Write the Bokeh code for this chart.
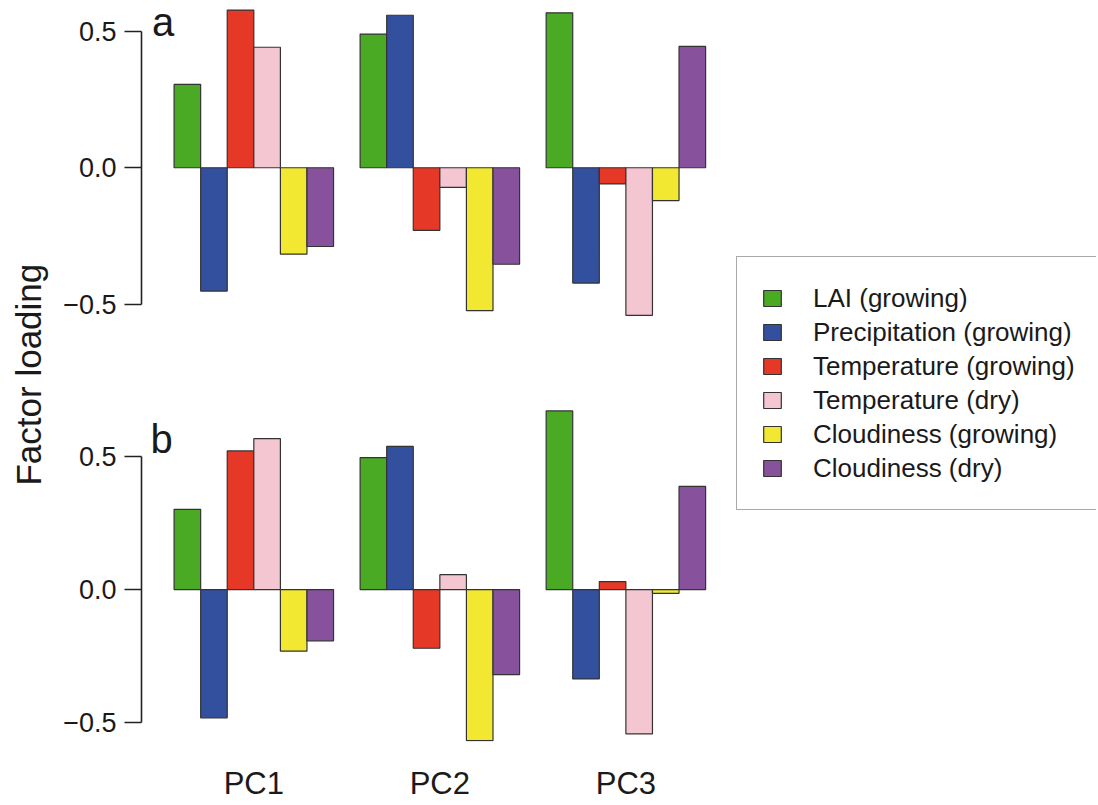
import math
from bokeh.plotting import figure
from bokeh.models import (ColumnDataSource, Range1d, FixedTicker, Label,
                          Legend, LegendItem)
from bokeh.core.properties import value
from bokeh.layouts import row, column
from bokeh.embed import file_html
from bokeh.resources import INLINE

FONT = "Liberation Sans"
INK = "#1a1a1a"

# ---------------- data ----------------
pcs = ["PC1", "PC2", "PC3"]
series = ["LAI (growing)", "Precipitation (growing)", "Temperature (growing)",
          "Temperature (dry)", "Cloudiness (growing)", "Cloudiness (dry)"]
colors = ["#4AAA24", "#32509E", "#E63826", "#F4C6D2", "#F2E832", "#87529B"]

# panel a
a_lai = [0.305, 0.489, 0.567]
a_prec = [-0.451, 0.558, -0.422]
a_temp_grow = [0.577, -0.229, -0.059]
a_temp_dry = [0.441, -0.072, -0.540]
a_cloud_grow = [-0.316, -0.523, -0.120]
a_cloud_dry = [-0.288, -0.353, 0.444]

# panel b
b_lai = [0.301, 0.495, 0.670]
b_prec = [-0.481, 0.537, -0.335]
b_temp_grow = [0.520, -0.220, 0.030]
b_temp_dry = [0.566, 0.056, -0.541]
b_cloud_grow = [-0.231, -0.566, -0.014]
b_cloud_dry = [-0.192, -0.319, 0.387]

y_ticks = [-0.5, 0.0, 0.5]
y_tick_labels = ["\u22120.5", "0.0", "0.5"]

panel_a = [a_lai, a_prec, a_temp_grow, a_temp_dry, a_cloud_grow, a_cloud_dry]
panel_b = [b_lai, b_prec, b_temp_grow, b_temp_dry, b_cloud_grow, b_cloud_dry]

n_ser = len(series)
group_step = n_ser + 1  # one empty bar-width between groups


def bar_source(vals):
    xs, tops, cols = [], [], []
    for g in range(len(pcs)):
        for i in range(n_ser):
            xs.append(1 + group_step * g + i + 0.5)
            tops.append(vals[i][g])
            cols.append(colors[i])
    return ColumnDataSource(dict(x=xs, top=tops, color=cols))


group_centers = [1 + group_step * g + n_ser / 2 for g in range(len(pcs))]

X_RANGE = (-0.226, 21.56)


def make_panel(vals, y_start, y_end, height, letter, lx, ly, bottom_axis):
    p = figure(width=660, height=height, output_backend="svg",
               toolbar_location=None,
               x_range=Range1d(*X_RANGE), y_range=Range1d(y_start, y_end),
               x_axis_type=None if not bottom_axis else "linear",
               min_border_left=79, min_border_right=0, min_border_top=0,
               min_border_bottom=63 if bottom_axis else 0)
    p.outline_line_color = None
    p.xgrid.visible = False
    p.ygrid.visible = False
    p.background_fill_color = "white"
    p.border_fill_color = "white"

    src = bar_source(vals)
    p.vbar(x="x", top="top", bottom=0, width=1.0, source=src,
           fill_color="color", line_color="#333333", line_width=1.2)

    ya = p.yaxis[0]
    ya.ticker = FixedTicker(ticks=y_ticks)
    ya.bounds = (min(y_ticks), max(y_ticks))
    ya.major_label_overrides = {t: l for t, l in zip(y_ticks, y_tick_labels)}
    ya.major_tick_out = 17
    ya.major_tick_in = 0
    ya.minor_tick_out = 0
    ya.minor_tick_in = 0
    ya.axis_line_color = "#222222"
    ya.axis_line_width = 1.6
    ya.major_tick_line_color = "#222222"
    ya.major_tick_line_width = 1.6
    ya.major_label_standoff = 8
    ya.major_label_text_font = FONT
    ya.major_label_text_font_size = "27px"
    ya.major_label_text_color = INK

    if bottom_axis:
        xa = p.xaxis[0]
        xa.ticker = FixedTicker(ticks=group_centers)
        xa.major_label_overrides = {c: n for c, n in zip(group_centers, pcs)}
        xa.axis_line_color = None
        xa.major_tick_line_color = None
        xa.minor_tick_line_color = None
        xa.major_tick_out = 0
        xa.major_tick_in = 0
        xa.major_label_standoff = 24
        xa.major_label_text_font = FONT
        xa.major_label_text_font_size = "31px"
        xa.major_label_text_color = INK

    p.add_layout(Label(x=lx, y=ly, text=letter, text_font=FONT,
                       text_font_size="40px", text_color=INK,
                       text_align="left", text_baseline="alphabetic"))
    return p


# panel a: 0.0 at y 167.3, 273.3 px per unit, frame 0..340
pa = make_panel(panel_a, -0.632, 0.612, 340, "a", 0.17, 0.533, False)
# panel b: 0.0 at y 589, 266.7 px per unit, frame 340..741
pb = make_panel(panel_b, -0.5696, 0.934, 464, "b", 0.11, 0.566, True)

TOTAL_H = 340 + 464

# y-axis title column
pl = figure(width=60, height=TOTAL_H, output_backend="svg",
            toolbar_location=None,
            x_range=Range1d(0, 60), y_range=Range1d(0, TOTAL_H),
            x_axis_type=None, y_axis_type=None,
            min_border_left=0, min_border_right=0, min_border_top=0,
            min_border_bottom=0)
pl.outline_line_color = None
pl.xgrid.visible = False
pl.ygrid.visible = False
pl.text(x=[28], y=[468], text=["Factor loading"],
        angle=math.pi / 2, text_font=value(FONT), text_font_size="35px",
        text_color=INK, text_align="left", text_baseline="middle")

# legend column
pg = figure(width=376, height=TOTAL_H, output_backend="svg",
            toolbar_location=None,
            x_range=Range1d(0, 1), y_range=Range1d(0, 1),
            x_axis_type=None, y_axis_type=None,
            min_border_left=16, min_border_right=0, min_border_top=256,
            min_border_bottom=0)
pg.outline_line_color = None
pg.xgrid.visible = False
pg.ygrid.visible = False
items = []
for name, col in zip(series, colors):
    r = pg.vbar(x=[float("nan")], top=[float("nan")], bottom=[0.0],
                width=0.1, fill_color=col,
                line_color="#333333", line_width=1.2)
    items.append(LegendItem(label=name, renderers=[r]))
leg = Legend(items=items, location="top_left", margin=0, padding=24,
             spacing=0, label_height=34, glyph_height=20, glyph_width=22,
             label_standoff=30, label_text_font=FONT,
             label_text_font_size="26px", label_text_color=INK,
             border_line_color="#555555", border_line_width=1.5,
             background_fill_color="white", background_fill_alpha=1.0)
pg.add_layout(leg)

layout = row(pl, column(pa, pb), pg)

open("out.html", "w").write(file_html(layout, INLINE))
